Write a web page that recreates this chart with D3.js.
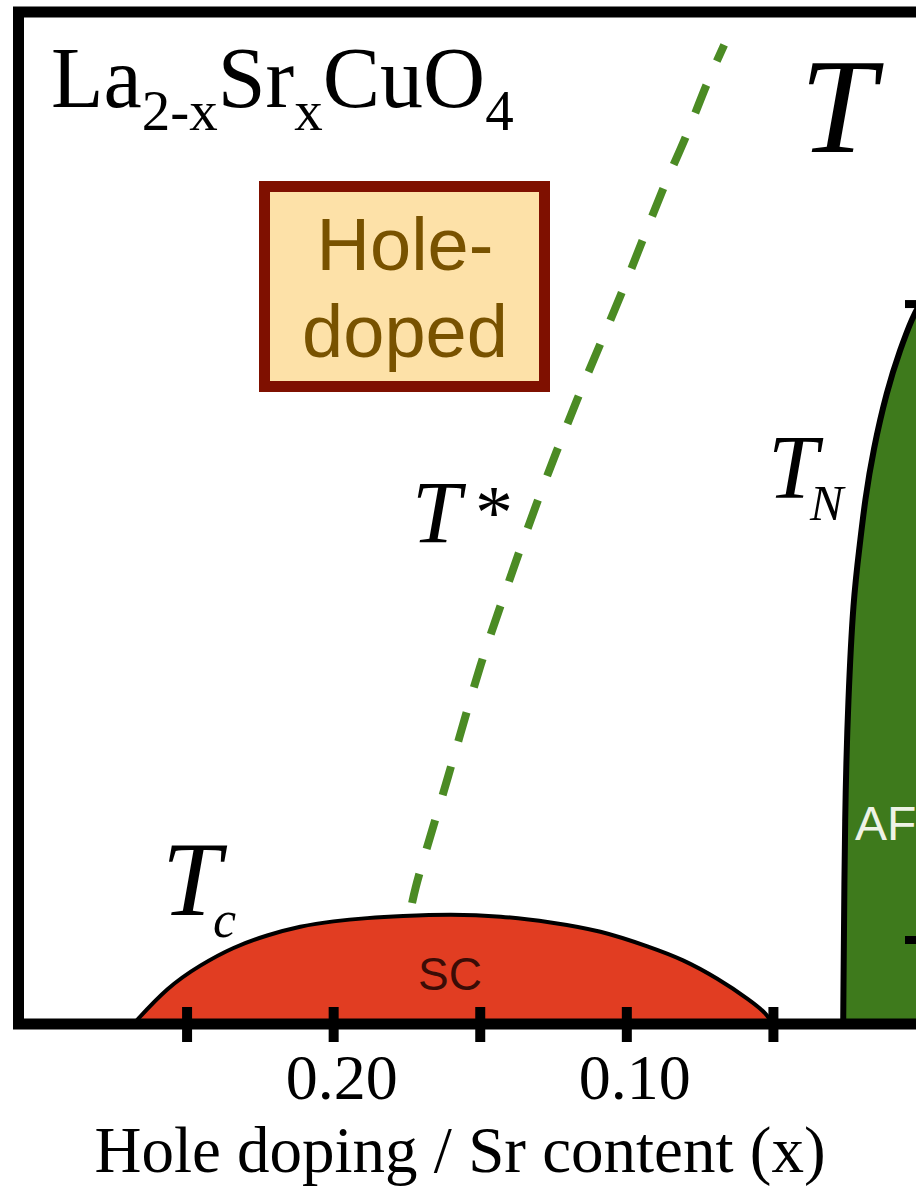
<!DOCTYPE html>
<html>
<head>
<meta charset="utf-8">
<script src="https://cdn.jsdelivr.net/npm/d3@7"></script>
<style>
  html, body { margin: 0; padding: 0; background: #ffffff; }
  svg { display: block; }
</style>
</head>
<body>
<script>
// Phase diagram of La(2-x)Sr(x)CuO4, hole-doped side; x runs right-to-left toward x = 0.

// Superconducting dome Tc(x)
const tcX = [0.2683, 0.2567, 0.2455, 0.2342, 0.2226, 0.2114, 0.2001, 0.1885, 0.1773, 0.160, 0.143, 0.126, 0.109, 0.092, 0.081, 0.069, 0.058, 0.052, 0.0505];
const tcT = [0, 15.4, 24.6, 32.1, 37.1, 40.8, 42.9, 44.2, 45, 45.8, 45, 42.5, 39, 32, 27, 19, 10, 4, 0];

// Neel temperature TN(x), antiferromagnetic boundary
const tnX = [0.0262, 0.0256, 0.0245, 0.0228, 0.0205, 0.0188, 0.0160, 0.0113, 0.0068, 0.0024, 0.0];
const tnT = [0, 93, 135, 177, 200, 218, 239, 264, 281, 295, 300];

// Pseudogap crossover T*(x)
const tsX = [0.174, 0.172, 0.161, 0.150, 0.144, 0.131, 0.117, 0.102, 0.0876, 0.0798, 0.0726, 0.0668];
const tsT = [46, 57, 103, 149, 171, 216, 260, 304, 348, 370, 392, 408];

// Axis ticks
const xTicks = [0.25, 0.20, 0.15, 0.10, 0.05];
const xTickLabels = { "0.2": "0.20", "0.1": "0.10" };
const tTicks = [35, 300];

const W = 916, H = 1199;
const svg = d3.select("body").append("svg").attr("width", W).attr("height", H);
svg.append("rect").attr("width", W).attr("height", H).attr("fill", "#ffffff");

const x = d3.scaleLinear().domain([0.3075, 0]).range([18.5, 920]);
const y = d3.scaleLinear().domain([0, 421.7]).range([1024, 12]);

const serif = "'Liberation Serif', 'Times New Roman', serif";
const sans = "'Liberation Sans', Arial, sans-serif";

const smooth = d3.line().x(d => x(d[0])).y(d => y(d[1])).curve(d3.curveBasis);

// Antiferromagnetic region
const tn = tnX.map((v, i) => [v, tnT[i]]);
const tnPath = smooth(tn);
svg.append("path")
  .attr("d", tnPath + `L${x(-0.02)},${y(300)}L${x(-0.02)},${y(0)}Z`)
  .attr("fill", "#3e7a1c");
svg.append("path")
  .attr("d", tnPath)
  .attr("fill", "none").attr("stroke", "#000").attr("stroke-width", 6);

// Superconducting dome
const tc = tcX.map((v, i) => [v, tcT[i]]);
const domePath = smooth(tc);
svg.append("path")
  .attr("d", domePath + "Z")
  .attr("fill", "#e13d22");
svg.append("path")
  .attr("d", domePath)
  .attr("fill", "none").attr("stroke", "#000").attr("stroke-width", 4);

// T* dashed line
const ts = tsX.map((v, i) => [v, tsT[i]]);
svg.append("path")
  .attr("d", d3.line().x(d => x(d[0])).y(d => y(d[1])).curve(d3.curveCatmullRom.alpha(0.5))(ts))
  .attr("fill", "none").attr("stroke", "#4b8b24").attr("stroke-width", 8)
  .attr("stroke-dasharray", "30 26").attr("stroke-dashoffset", 45);

// Frame: top, left and bottom (x axis)
svg.append("path")
  .attr("d", `M${W + 20},${y(421.7)} H${x(0.3075)} V${y(0)} H${W + 20}`)
  .attr("fill", "none").attr("stroke", "#000").attr("stroke-width", 11)
  .attr("stroke-linejoin", "miter");

// x ticks crossing the axis
svg.append("g").selectAll("line").data(xTicks).join("line")
  .attr("x1", d => x(d)).attr("x2", d => x(d))
  .attr("y1", y(0) - 17).attr("y2", y(0) + 18)
  .attr("stroke", "#000").attr("stroke-width", 10);

svg.append("g").selectAll("text").data(xTicks.filter(d => xTickLabels[String(d)])).join("text")
  .attr("x", d => x(d) + 8).attr("y", 1099)
  .attr("text-anchor", "middle")
  .attr("font-family", serif).attr("font-size", 64).attr("fill", "#000")
  .text(d => xTickLabels[String(d)]);

svg.append("text")
  .attr("x", 460).attr("y", 1172).attr("text-anchor", "middle")
  .attr("font-family", serif).attr("font-size", 65).attr("fill", "#000")
  .text("Hole doping / Sr content (x)");

// Temperature axis ticks at x = 0
svg.append("g").selectAll("line").data(tTicks).join("line")
  .attr("x1", x(0) - 15).attr("x2", x(0) + 5)
  .attr("y1", d => y(d)).attr("y2", d => y(d))
  .attr("stroke", "#000").attr("stroke-width", 8);

// Compound name
const title = svg.append("text").attr("x", 51).attr("y", 107)
  .attr("font-family", serif).attr("font-size", 86).attr("fill", "#000");
title.append("tspan").text("La");
title.append("tspan").attr("font-size", 57).attr("dy", 23).text("2-x");
title.append("tspan").attr("dy", -23).text("Sr");
title.append("tspan").attr("font-size", 57).attr("dy", 23).text("x");
title.append("tspan").attr("dy", -23).text("CuO");
title.append("tspan").attr("font-size", 57).attr("dy", 23).text("4");

// Hole-doped badge
svg.append("rect").attr("x", 264.5).attr("y", 186.5).attr("width", 280).attr("height", 200)
  .attr("fill", "#fde1a8").attr("stroke", "#7f1000").attr("stroke-width", 11);
svg.append("text").attr("x", 405).attr("y", 270).attr("text-anchor", "middle")
  .attr("font-family", sans).attr("font-size", 74).attr("fill", "#785200").text("Hole-");
svg.append("text").attr("x", 405).attr("y", 357).attr("text-anchor", "middle")
  .attr("font-family", sans).attr("font-size", 74).attr("fill", "#785200").text("doped");

// Temperature axis name
svg.append("text").attr("x", 800).attr("y", 152)
  .attr("font-family", serif).attr("font-style", "italic").attr("font-size", 136).attr("fill", "#000")
  .text("T");

// Curve labels
function italicLabel(px, py, size, sub, subSize, subDx, subDy) {
  const t = svg.append("text").attr("x", px).attr("y", py)
    .attr("font-family", serif).attr("font-style", "italic").attr("font-size", size).attr("fill", "#000");
  t.append("tspan").text("T");
  t.append("tspan").attr("font-size", subSize).attr("dx", subDx).attr("dy", subDy).text(sub);
  return t;
}
italicLabel(162, 915, 106, "c", 52, -8, 22);
italicLabel(768, 498, 90, "N", 50, -8, 22);

const tstar = svg.append("text").attr("x", 412).attr("y", 542)
  .attr("font-family", serif).attr("font-size", 88).attr("fill", "#000");
tstar.append("tspan").attr("font-style", "italic").text("T");
tstar.append("tspan").attr("font-size", 76).attr("dx", 14).attr("dy", -4).text("*");

// Phase names
svg.append("text").attr("x", 450).attr("y", 990).attr("text-anchor", "middle")
  .attr("font-family", sans).attr("font-size", 46).attr("fill", "#3a0c06").text("SC");
svg.append("text").attr("x", 855).attr("y", 840)
  .attr("font-family", sans).attr("font-size", 48).attr("fill", "#eef3e6").text("AF");
</script>
</body>
</html>
